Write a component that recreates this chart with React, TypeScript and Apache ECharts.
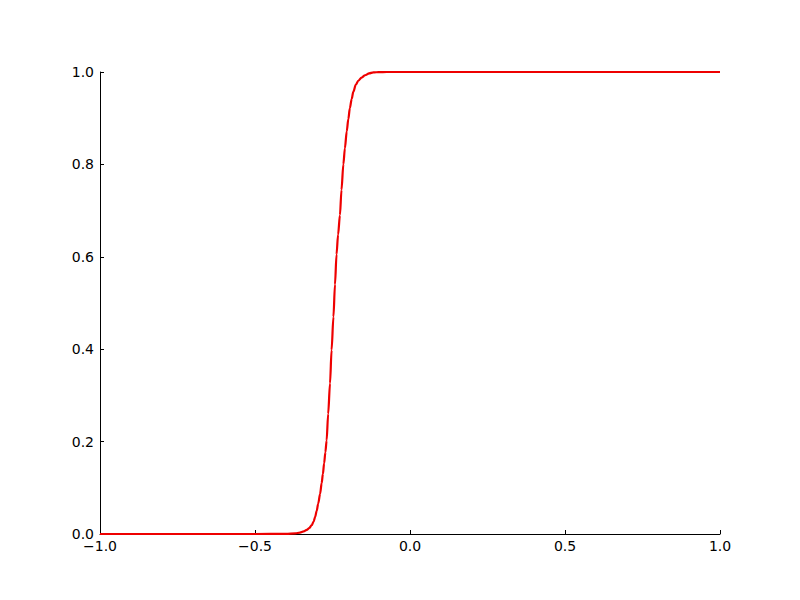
import React, { useEffect, useRef } from "react";
import * as echarts from "echarts";

const xValues = [
  -1.0, -0.5, -0.4, -0.37, -0.355, -0.343, -0.333, -0.325, -0.317, -0.311,
  -0.306, -0.301, -0.296, -0.29, -0.285, -0.281, -0.277, -0.273, -0.269,
  -0.264, -0.258, -0.253, -0.247, -0.242, -0.237, -0.232, -0.226, -0.221,
  -0.215, -0.21, -0.204, -0.199, -0.194, -0.188, -0.183, -0.175, -0.167,
  -0.156, -0.145, -0.132, -0.118, -0.1, -0.075, -0.04, 0.0, 0.5, 1.0,
];
const yValues = [
  0.0, 0.0, 0.0002, 0.0012, 0.003, 0.0055, 0.009, 0.013, 0.019, 0.027,
  0.037, 0.05, 0.066, 0.087, 0.11, 0.13, 0.153, 0.177, 0.202,
  0.26, 0.326, 0.398, 0.47, 0.54, 0.605, 0.648, 0.69, 0.745,
  0.8, 0.835, 0.872, 0.898, 0.922, 0.942, 0.957, 0.972, 0.981,
  0.988, 0.993, 0.997, 0.999, 0.9998, 1.0, 1.0, 1.0, 1.0, 1.0,
];
const xTicks = { min: -1, max: 1, interval: 0.5 };
const yTicks = { min: 0, max: 1, interval: 0.2 };

const fmt = (v: number) => v.toFixed(1).replace("-", "\u2212");

export default function App() {
  const ref = useRef<HTMLDivElement>(null);
  useEffect(() => {
    if (!ref.current) return;
    const chart = echarts.init(ref.current, null, { renderer: "svg" });
    const data = xValues.map((x, i) => [x, yValues[i]]);
    const axisText = {
      color: "#000",
      fontFamily: "DejaVu Sans",
      fontSize: 14,
    };
    chart.setOption({
      animation: false,
      backgroundColor: "#fff",
      grid: { left: 100, right: 80, top: 72, bottom: 66, containLabel: false },
      xAxis: {
        type: "value",
        ...xTicks,
        axisLine: { show: true, onZero: false, lineStyle: { color: "#000", width: 1 } },
        axisTick: { show: true, inside: true, length: 4, lineStyle: { color: "#000" } },
        axisLabel: { ...axisText, margin: 5, formatter: fmt, showMinLabel: true, showMaxLabel: true },
        splitLine: { show: false },
      },
      yAxis: {
        type: "value",
        ...yTicks,
        axisLine: { show: true, onZero: false, lineStyle: { color: "#000", width: 1 } },
        axisTick: { show: true, inside: true, length: 4, lineStyle: { color: "#000" } },
        axisLabel: { ...axisText, margin: 6, formatter: fmt, showMinLabel: true, showMaxLabel: true },
        splitLine: { show: false },
      },
      series: [
        {
          type: "line",
          data,
          smooth: 0.3,
          smoothMonotone: "x",
          showSymbol: false,
          symbol: "none",
          lineStyle: { color: "#ee0000", width: 2.2 },
          z: 1,
        },
      ],
    });
    return () => chart.dispose();
  }, []);
  return <div ref={ref} style={{ width: 800, height: 600, margin: -8 }} />;
}
